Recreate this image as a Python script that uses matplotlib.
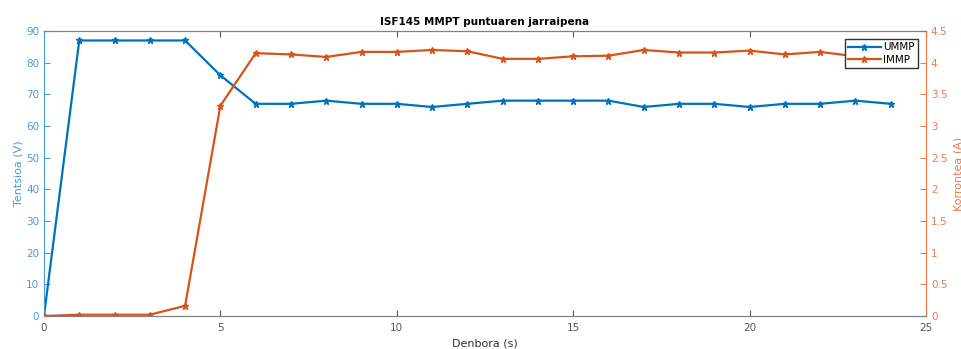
import matplotlib
matplotlib.use('Agg')
import matplotlib.pyplot as plt
import numpy as np

# datuak
denbora = list(range(0, 25))
ummp = [0, 87, 87, 87, 87, 76, 67, 67, 68, 67, 67, 66, 67, 68, 68, 68, 68, 66, 67, 67, 66, 67, 67, 68, 67]
immp = [0, 0.02, 0.02, 0.02, 0.16, 3.32, 4.15, 4.13, 4.09, 4.17, 4.17, 4.20, 4.18, 4.06, 4.06,
        4.10, 4.11, 4.20, 4.16, 4.16, 4.19, 4.13, 4.17, 4.10, 4.07]

blue = '#0072BD'
orange = '#D95319'
blue_txt = '#4A9BDB'
orange_txt = '#EE7B4A'

plt.rcParams['font.family'] = 'DejaVu Sans'
fig = plt.figure(figsize=(9.62, 3.49), dpi=100)
ax = fig.add_axes([0.0457, 0.0946, 0.9169, 0.8166])
ax2 = ax.twinx()

l1, = ax.plot(denbora, ummp, color=blue, lw=1.6, marker='*', ms=4.5, label='UMMP')
l2, = ax2.plot(denbora, immp, color=orange, lw=1.6, marker='*', ms=4.5, label='IMMP')

ax.set_xlim(0, 25)
ax.set_ylim(0, 90)
ax2.set_ylim(0, 4.5)
ax.set_xticks(np.arange(0, 26, 5))
ax.set_yticks(np.arange(0, 91, 10))
ax2.set_yticks(np.arange(0, 4.6, 0.5))
ax2.set_yticklabels(['0', '0.5', '1', '1.5', '2', '2.5', '3', '3.5', '4', '4.5'])

for a in (ax, ax2):
    a.tick_params(direction='in', length=4, labelsize=7.5, top=True)
    for s in a.spines.values():
        s.set_color('#808080')
ax.tick_params(axis='y', colors=blue_txt, right=False)
ax.tick_params(axis='x', colors='#555555', pad=5)
ax2.tick_params(axis='y', colors=orange_txt)
ax.spines['left'].set_color(blue_txt)
ax2.spines['right'].set_color(orange_txt)
ax2.spines['left'].set_visible(False)

ax.set_ylabel('Tentsioa (V)', color=blue_txt, fontsize=8, labelpad=2)
ax2.set_ylabel('Korrontea (A)', color=orange_txt, fontsize=8, labelpad=4)
ax.set_xlabel('Denbora (s)', color='#333333', fontsize=8, labelpad=4)
ax.set_title('ISF145 MMPT puntuaren jarraipena', fontsize=7.5, fontweight='bold', pad=4)

leg = ax2.legend(handles=[l1, l2], loc='upper right', fontsize=7.5, fancybox=False,
                 framealpha=1, edgecolor='#333333', borderaxespad=0.8,
                 handlelength=3.2, handletextpad=0.2, borderpad=0.3, labelspacing=0.2)
leg.get_frame().set_linewidth(1.0)

fig.savefig('out.png', dpi=100)
